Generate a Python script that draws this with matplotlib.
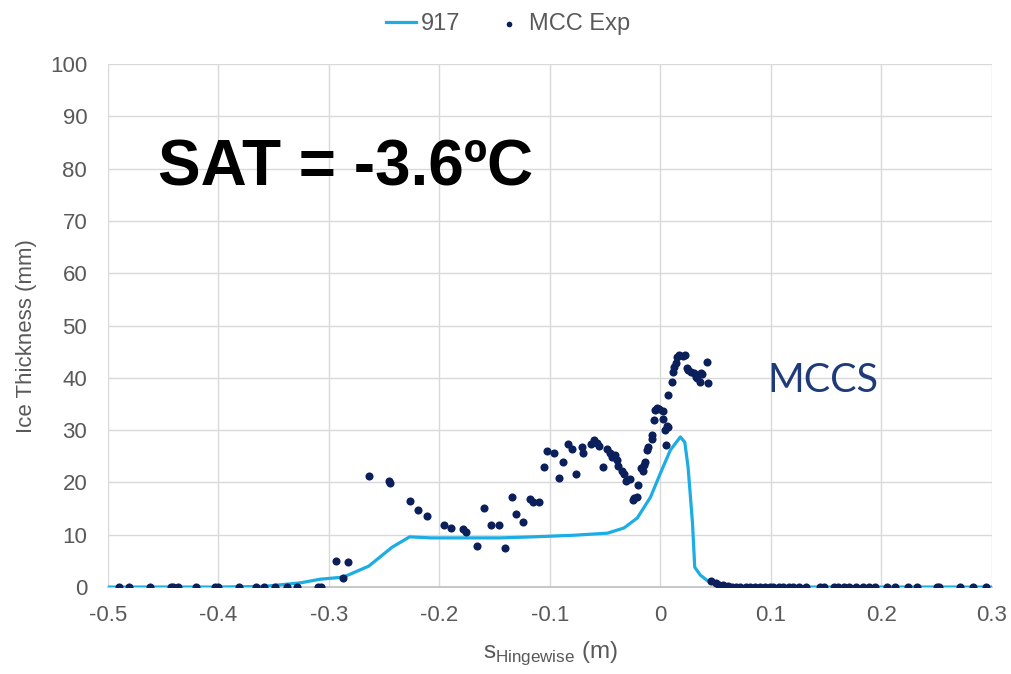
import matplotlib
matplotlib.use("Agg")
import matplotlib.pyplot as plt

# Simulated ice thickness profile (case 917)
sim_s = [-0.50, -0.40, -0.36, -0.326, -0.308, -0.287, -0.264, -0.243, -0.227, -0.208,
         -0.145, -0.115, -0.079, -0.048, -0.033, -0.021, -0.009, 0.000, 0.009, 0.018,
         0.022, 0.025, 0.029, 0.031, 0.036, 0.045, 0.060, 0.080, 0.30]
sim_h = [0.0, 0.0, 0.1, 0.8, 1.5, 1.9, 4.0, 7.6, 9.6, 9.4,
         9.4, 9.6, 9.9, 10.3, 11.3, 13.2, 17.2, 21.8, 26.2, 28.7,
         27.7, 22.9, 12.2, 3.8, 2.3, 0.8, 0.2, 0.0, 0.0]

# Measured ice thickness (MCC experiment)
exp_s = [-0.490, -0.481, -0.462, -0.443, -0.441, -0.437, -0.420, -0.403, -0.400, -0.381,
         -0.366, -0.359, -0.349, -0.338, -0.329, -0.310, -0.307,
         -0.294, -0.283, -0.287, -0.264, -0.246, -0.245, -0.227, -0.219, -0.211,
         -0.196, -0.190, -0.179, -0.176, -0.166, -0.160, -0.153, -0.146, -0.141,
         -0.134, -0.131, -0.124, -0.118, -0.115, -0.110, -0.103, -0.096, -0.105, -0.092,
         -0.088, -0.084, -0.080, -0.076, -0.071, -0.070, -0.063, -0.060, -0.057, -0.056,
         -0.052, -0.048, -0.046, -0.044, -0.041, -0.039, -0.038, -0.035, -0.033,
         -0.031, -0.028, -0.025, -0.024, -0.021, -0.020, -0.018, -0.016, -0.015, -0.014,
         -0.012, -0.011, -0.008, -0.008, -0.006, -0.005, -0.003, -0.001, 0.002, 0.002,
         0.005, 0.004, 0.006, 0.007, 0.007, 0.010, 0.011, 0.012, 0.014, 0.015, 0.017,
         0.020, 0.022, 0.024, 0.025, 0.028, 0.030, 0.032, 0.033, 0.036, 0.038, 0.037,
         0.042, 0.043,
         0.046, 0.050, 0.053, 0.057, 0.061, 0.065, 0.068, 0.072, 0.077, 0.081,
         0.086, 0.090, 0.095, 0.099, 0.102, 0.107, 0.111, 0.116, 0.120, 0.125,
         0.132, 0.144, 0.148, 0.157, 0.161, 0.166, 0.171, 0.177, 0.183, 0.189,
         0.194, 0.205, 0.212, 0.224, 0.232, 0.250, 0.252, 0.271, 0.283, 0.295]
exp_h = [0.0, 0.0, 0.0, 0.0, 0.0, 0.0, 0.0, 0.0, 0.0, 0.0,
         0.0, 0.0, 0.0, 0.0, 0.0, 0.0, 0.0,
         5.0, 4.8, 1.7, 21.2, 20.3, 19.9, 16.4, 14.7, 13.6,
         11.9, 11.3, 11.1, 10.5, 7.8, 15.1, 11.9, 11.9, 7.5,
         17.2, 14.0, 12.4, 16.8, 16.3, 16.3, 26.0, 25.6, 22.9, 20.8,
         23.9, 27.3, 26.4, 21.6, 26.8, 25.6, 27.3, 28.1, 27.5, 27.0,
         22.9, 26.4, 25.6, 24.9, 25.2, 24.3, 23.1, 22.2, 21.6,
         20.3, 20.6, 16.6, 17.0, 17.2, 19.5, 22.8, 22.2, 23.3, 23.9,
         26.2, 26.8, 28.3, 29.1, 31.9, 33.8, 34.2, 34.0, 33.7, 32.1,
         27.2, 30.0, 30.8, 30.6, 36.7, 39.2, 41.1, 42.1, 42.8, 44.0, 44.4,
         44.2, 44.4, 41.9, 41.5, 41.1, 40.9, 40.2, 40.0, 39.2, 40.7, 40.9,
         43.0, 39.0,
         1.1, 0.8, 0.4, 0.3, 0.2, 0.1, 0.0, 0.0, 0.0, 0.0,
         0.0, 0.0, 0.0, 0.0, 0.0, 0.0, 0.0, 0.0, 0.0, 0.0,
         0.0, 0.0, 0.0, 0.0, 0.0, 0.0, 0.0, 0.0, 0.0, 0.0,
         0.0, 0.0, 0.0, 0.0, 0.0, 0.0, 0.0, 0.0, 0.0, 0.0]

x_ticks = [-0.5, -0.4, -0.3, -0.2, -0.1, 0.0, 0.1, 0.2, 0.3]
x_tick_labels = ["-0.5", "-0.4", "-0.3", "-0.2", "-0.1", "0", "0.1", "0.2", "0.3"]
y_ticks = list(range(0, 101, 10))

line_color = "#1BADE3"
dot_color = "#0B1F5B"
text_gray = "#595959"
grid_gray = "#D9D9D9"

plt.rcParams["font.family"] = ["Liberation Sans", "DejaVu Sans"]

fig = plt.figure(figsize=(10.12, 6.74), dpi=100)
ax = fig.add_axes([0.1067, 0.129, 0.8735, 0.776])

ax.plot(sim_s, sim_h, color=line_color, lw=2.3, label="917", zorder=3)
ax.scatter(exp_s, exp_h, s=34, color=dot_color, label="MCC Exp", zorder=4, linewidths=0)

ax.set_xlim(-0.5, 0.3)
ax.set_ylim(0, 100)
ax.set_xticks(x_ticks)
ax.set_xticklabels(x_tick_labels)
ax.set_yticks(y_ticks)
ax.tick_params(axis="both", length=0, labelsize=16, colors=text_gray)
ax.tick_params(axis="x", pad=13)
ax.tick_params(axis="y", pad=15)
ax.grid(True, color=grid_gray, lw=1)
ax.set_axisbelow(True)
for side in ["top", "right", "left"]:
    ax.spines[side].set_visible(False)
ax.spines["bottom"].set_color("#BFBFBF")
ax.spines["bottom"].set_linewidth(1.2)

ax.set_ylabel("Ice Thickness (mm)", fontsize=16, color=text_gray)
ax.yaxis.set_label_coords(-0.080, 0.48)
ax.set_xlabel(r"s$_{\mathregular{Hingewise}}$ (m)", fontsize=17.5, color=text_gray)
ax.xaxis.set_label_coords(0.5, -0.100)

ax.text(-0.455, 80.0, "SAT = -3.6ºC", fontsize=46, fontweight="bold", color="black",
        va="center", ha="left")
ax.text(0.097, 39.5, "MCCS", fontsize=28.5, color="#1F3A78", va="center", ha="left",
        family=["Lato", "DejaVu Sans"])

leg = fig.legend(loc="upper center", bbox_to_anchor=(0.502, 1.012), ncol=2, frameon=False,
                 fontsize=17, handlelength=1.3, handletextpad=0.2, columnspacing=1.4,
                 markerscale=0.7)
for t in leg.get_texts():
    t.set_color(text_gray)

fig.savefig("out.png", dpi=100)
